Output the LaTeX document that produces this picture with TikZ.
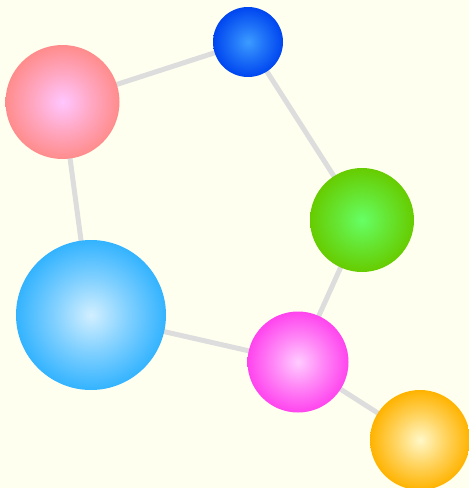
\documentclass[tikz,border=0pt]{standalone}
\usepackage{tikz}

% Sombreado radial con colores variables
\pgfdeclareradialshading[orbin,orbout]{orbe}{\pgfpoint{0bp}{0bp}}{%
  color(0bp)=(orbin); color(12bp)=(orbin!50!orbout); color(25bp)=(orbout); color(50bp)=(orbout)}

\definecolor{fondo}{HTML}{FFFFF0}
\definecolor{arista}{HTML}{DDDDDD}

\tikzset{
  bola/.style n args={3}{circle, draw=none, minimum size=#1pt, inner sep=0pt,
    /utils/exec={\definecolor{orbin}{HTML}{#2}\definecolor{orbout}{HTML}{#3}},
    shading=orbe},
  enlace/.style={draw=arista, line width=5pt}
}

\begin{document}
\begin{tikzpicture}[x=1pt, y=-1pt]
    % Fondo
    \fill[fondo] (0,0) rectangle (469,488);
    \useasboundingbox (0,0) rectangle (469,488);
    % Posiciones de los nodos
    \coordinate (rosa) at (62.5,102);
    \coordinate (azul) at (248,42);
    \coordinate (verde) at (362,220);
    \coordinate (celeste) at (91,315);
    \coordinate (magenta) at (298,362);
    \coordinate (naranja) at (420,440);
    % Aristas
    \draw[enlace] (rosa) -- (azul);
    \draw[enlace] (azul) -- (verde);
    \draw[enlace] (verde) -- (magenta);
    \draw[enlace] (magenta) -- (celeste);
    \draw[enlace] (celeste) -- (rosa);
    \draw[enlace] (magenta) -- (naranja);
    % Bolas
    \node[bola={114}{FFC6FF}{FF8C8C}] (brosa) at (rosa) {};
    \node[bola={70}{3C9CFF}{0046F0}] (bazul) at (azul) {};
    \node[bola={104}{66FF66}{66CC00}] (bverde) at (verde) {};
    \node[bola={150}{D2EFFF}{33B3FF}] (bceleste) at (celeste) {};
    \node[bola={101}{FFCCFF}{FF44EE}] (bmagenta) at (magenta) {};
    \node[bola={100}{FFF8C8}{FFB300}] (bnaranja) at (naranja) {};
\end{tikzpicture}
\end{document}
